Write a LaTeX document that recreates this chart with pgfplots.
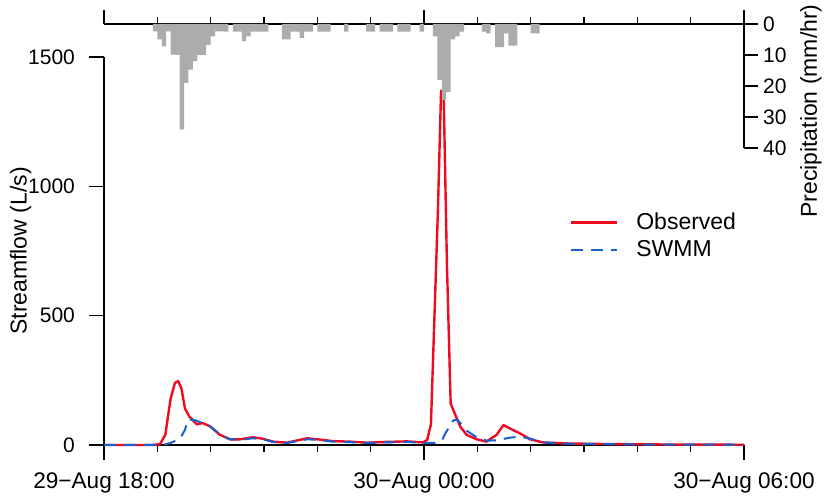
\documentclass[border=0pt]{standalone}
\usepackage{fontspec}
\setmainfont{Liberation Sans}
\usepackage{pgfplots}
\pgfplotsset{compat=1.18}
\definecolor{obs}{RGB}{240,10,30}
\definecolor{swmm}{RGB}{25,95,205}
\definecolor{prc}{RGB}{172,172,172}
\begin{document}
\begin{tikzpicture}[x=1pt,y=1pt]
\useasboundingbox (0,0) rectangle (412.5,251.5);
\begin{axis}[
  at={(52pt,29pt)}, anchor=south west,
  width=320pt, height=194pt, scale only axis,
  xmin=0, xmax=12, ymin=0, ymax=1500,
  axis x line=bottom, axis y line=left,
  axis line style={-, line width=0.8pt},
  tick align=outside,
  major tick length=7.5pt, minor tick length=3.3pt,
  tick style={black, line width=0.8pt},
  xtick={0,6,12}, minor xtick={1,2,3,4,5,7,8,9,10,11},
  xticklabels={29−Aug 18:00, 30−Aug 00:00, 30−Aug 06:00},
  xticklabel style={font=\fontsize{11.3}{13}\selectfont, yshift=-3pt},
  ytick={0,500,1000,1500},
  yticklabel style={font=\fontsize{10.5}{12}\selectfont, xshift=-3.5pt},
  /pgf/number format/assume math mode=true,
  /pgf/number format/set thousands separator={},
  ylabel={Streamflow (L/s)},
  ylabel style={font=\fontsize{11.5}{13}\selectfont, at={(axis description cs:-0.13,0.5)}, anchor=center},
  clip=false,
  legend style={draw=none, fill=none, at={(axis description cs:0.718,0.62)}, anchor=north west,
    font=\fontsize{11.5}{13}\selectfont, row sep=0pt},
  legend cell align=left,
  legend image code/.code={\draw[#1] (0pt,0pt) -- (23pt,0pt); \path (30pt,0pt);},
]
\addplot[obs, line width=1.2pt, line join=round] coordinates {
(0,0) (0.9,0) (1.05,3) (1.15,40) (1.25,180) (1.33,240) (1.39,247) (1.45,220)
(1.52,140) (1.6,110) (1.74,80) (1.85,85) (1.99,72) (2.17,40) (2.36,22) (2.55,22)
(2.79,30) (2.98,24) (3.17,13) (3.43,9) (3.81,26) (4.0,22) (4.29,15) (4.61,13)
(4.93,9) (5.31,12) (5.68,14) (5.98,10) (6.06,20) (6.13,80) (6.26,900) (6.32,1370)
(6.37,1340) (6.43,700) (6.5,160) (6.55,135) (6.68,71) (6.8,39) (6.99,22) (7.17,13)
(7.36,39) (7.49,77) (7.61,64) (7.8,45) (7.99,22) (8.23,10) (8.68,6) (9.3,4)
(10.5,2) (12,1)
};
\addlegendentry{Observed}
\addplot[swmm, line width=1pt, dash pattern=on 6pt off 4pt] coordinates {
(0,0) (1.1,0) (1.25,8) (1.43,25) (1.52,60) (1.58,100) (1.72,95) (1.83,86)
(2.0,70) (2.17,42) (2.36,22) (2.55,20) (2.79,26) (2.98,22) (3.17,12) (3.43,8)
(3.81,22) (4.0,20) (4.29,13) (4.61,11) (4.93,8) (5.31,10) (5.68,12) (5.98,8)
(6.2,8) (6.34,19) (6.4,45) (6.55,95) (6.63,97) (6.8,55) (6.99,30) (7.17,17)
(7.36,18) (7.6,28) (7.8,32) (7.99,25) (8.23,10) (8.68,5) (10,2) (12,1)
};
\addlegendentry{SWMM}
\end{axis}
\begin{axis}[
  at={(52pt,177.5pt)}, anchor=south west,
  width=320pt, height=62pt, scale only axis,
  xmin=0, xmax=12, ymin=0, ymax=40, y dir=reverse,
  axis x line=top, axis y line=right,
  axis line style={-, line width=0.8pt},
  tick align=outside,
  major tick length=7pt, minor tick length=3.5pt,
  tick style={black, line width=0.8pt},
  xtick={0,6,12}, minor xtick={1,2,3,4,5,7,8,9,10,11},
  xticklabels={},
  ytick={0,10,20,30,40},
  /pgf/number format/assume math mode=true,
  yticklabel style={font=\fontsize{10.5}{12}\selectfont, xshift=-1pt},
  ylabel={Precipitation (mm/hr)},
  ylabel style={font=\fontsize{11.5}{13}\selectfont, at={(axis description cs:1.1047,0.298)}, anchor=center, rotate=0},
  clip=false,
]
\addplot[ybar, bar width=0.0833, fill=prc, draw=none] coordinates {
(0.9583,2.4) (1.0417,5) (1.125,7.2) (1.2083,2.4) (1.2917,9.9) (1.375,10) (1.4583,34)
(1.5417,19) (1.625,14.7) (1.7083,12) (1.7917,10) (1.875,10) (1.9583,6.7) (2.0417,4)
(2.125,2.4) (2.2083,2.4) (2.2917,2.5) (2.4583,2.5) (2.5417,2.5) (2.625,5.5) (2.7083,4)
(2.7917,2.5) (2.875,2.5) (2.9583,2.5) (3.0417,2.5) (3.375,5) (3.4583,5) (3.5417,2.5)
(3.625,2.5) (3.7083,4.5) (3.7917,2.5) (3.875,2.5) (4.0417,2.5) (4.125,2.5) (4.2083,2.5)
(4.5417,2.5) (4.9583,2.5) (5.0417,2.5) (5.2083,2.5) (5.2917,2.5) (5.375,2.5) (5.5417,2.5)
(5.625,2.5) (5.7083,2.5) (5.9583,2.5) (6.2083,4) (6.2917,18) (6.375,24.5) (6.4583,22)
(6.5417,5) (6.625,4) (6.7083,2.5) (7.125,2.5) (7.2083,3) (7.375,7.5) (7.4583,7.5)
(7.5417,3) (7.625,7) (7.7083,7) (8.0417,3) (8.125,3)
};
\end{axis}
\end{tikzpicture}
\end{document}
